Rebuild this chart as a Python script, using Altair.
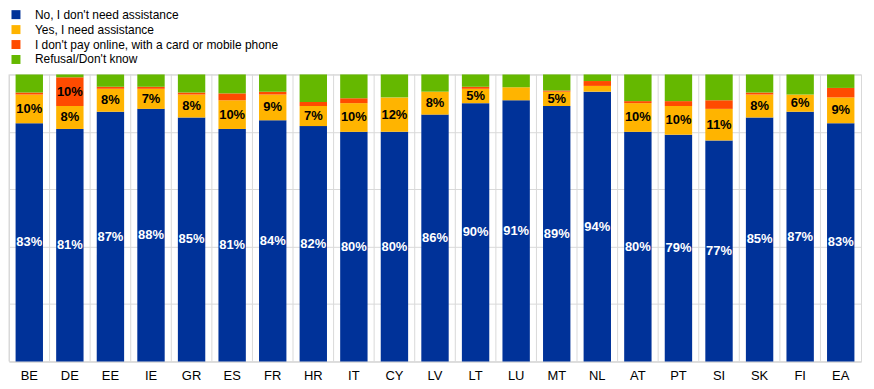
import altair as alt
import pandas as pd

countries = ["BE", "DE", "EE", "IE", "GR", "ES", "FR", "HR", "IT", "CY", "LV",
             "LT", "LU", "MT", "NL", "AT", "PT", "SI", "SK", "FI", "EA"]
series = ["No, I don't need assistance", "Yes, I need assistance",
          "I don't pay online, with a card or mobile phone", "Refusal/Don't know"]
no_assist = [83, 81, 87, 88, 85, 81, 84, 82, 80, 80, 86, 90, 91, 89, 94, 80, 79, 77, 85, 87, 83]
yes_assist = [10, 8, 8, 7, 8, 10, 9, 7, 10, 12, 8, 5, 4.5, 5, 2, 10, 10, 11, 8, 6, 9]
no_pay = [0.7, 10, 0.7, 0.7, 0.7, 2.4, 1, 1.4, 1.7, 0, 0, 0.7, 0, 0.4, 1.7, 0.7, 1.7, 3, 0.7, 0, 3.3]
refusal = [6.3, 1, 4.3, 4.3, 6.3, 6.6, 6, 9.6, 8.3, 8, 6, 4.3, 4.5, 5.6, 2.3, 9.3, 9.3, 9, 6.3, 7, 4.7]
colors = ["#003299", "#FFB400", "#FF4B00", "#65B800"]
label_colors = ["white", "black", "black", "black"]

rows = []
for i, c in enumerate(countries):
    for k, vals in enumerate([no_assist, yes_assist, no_pay, refusal]):
        v = vals[i]
        show = (k < 3) and (v >= 5)
        rows.append({"country": c, "series": series[k], "idx": k, "value": v,
                     "label": f"{round(v)}%" if show else "",
                     "lcol": label_colors[k]})
df = pd.DataFrame(rows)

GRID = "#d9d9d9"
xscale = alt.Scale(paddingInner=0.325, paddingOuter=0.1625)

base = alt.Chart(df).transform_stack(
    stack="value", groupby=["country"], as_=["v0", "v1"],
    sort=[alt.SortField("idx", order="ascending")]
).transform_calculate(mid="(datum.v0 + datum.v1) / 2")

yscale = alt.Scale(domain=[0, 100], nice=False)

xaxis = alt.Axis(labelAngle=0, ticks=False, grid=False, domainColor=GRID,
                 labelFont="Liberation Sans Narrow, Arial Narrow, Liberation Sans, sans-serif",
                 labelFontSize=13, labelColor="#000000", labelPadding=8)

vgrid = alt.Chart(df).transform_filter("datum.idx == 0").mark_rule(
    color=GRID, strokeWidth=1, xOffset=-20.35
).encode(
    x=alt.X("country:N", sort=countries, title=None, scale=xscale, axis=xaxis),
    y=alt.datum(0, scale=yscale),
    y2=alt.datum(100)
)

bars = base.mark_bar().encode(
    x=alt.X("country:N", sort=countries, title=None, scale=xscale, axis=xaxis),
    y=alt.Y("v0:Q", scale=yscale, title=None,
            axis=alt.Axis(labels=False, ticks=False, domain=False, grid=True,
                          gridColor=GRID, values=list(range(0, 101, 10)))),
    y2="v1:Q",
    color=alt.Color("series:N", sort=series, title=None,
                    scale=alt.Scale(domain=series, range=colors),
                    legend=alt.Legend(orient="none", legendX=1, legendY=-66,
                                      symbolType="square", symbolSize=81,
                                      symbolStrokeWidth=0, symbolOpacity=1,
                                      labelFont="Liberation Sans", labelFontSize=12,
                                      labelColor="#000000", labelOffset=13,
                                      labelLimit=0, rowPadding=3, padding=0)),
    order=alt.Order("idx:Q")
)

text = base.transform_filter("datum.label != ''").mark_text(
    font="Liberation Sans", fontSize=13, fontWeight="bold"
).encode(
    x=alt.X("country:N", sort=countries),
    y=alt.Y("mid:Q"),
    text="label:N",
    color=alt.Color("lcol:N", scale=None)
)

chart = alt.layer(vgrid, bars, text).properties(
    width=855, height=288,
    padding={"left": 0, "top": 0, "right": 5, "bottom": 5}
).configure_view(stroke=GRID)

chart.save("out.html", embed_options={"renderer": "svg", "actions": False})
